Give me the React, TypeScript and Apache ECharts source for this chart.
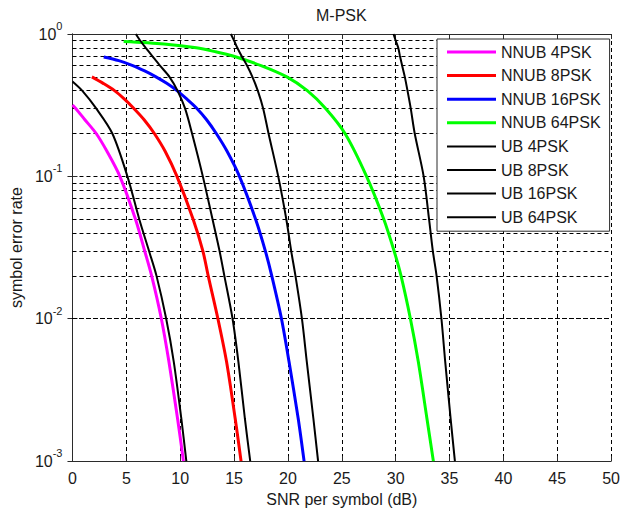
import React, { useEffect, useRef } from 'react';
import * as echarts from 'echarts';

// [SNR (dB), symbol error rate]
const nnub4psk: [number, number][] = [
  [0, 0.317], [0.3, 0.3], [1.15, 0.25], [2.2, 0.2], [3.2, 0.15], [4.4, 0.1], [5.85, 0.05],
  [6.7, 0.03], [7.35, 0.02], [8.25, 0.01], [8.95, 0.005], [9.75, 0.002], [10.3, 0.001],
];
const nnub8psk: [number, number][] = [
  [1.8, 0.5], [2.85, 0.45], [3.9, 0.4], [4.8, 0.35], [5.7, 0.3], [6.65, 0.25], [7.6, 0.2],
  [8.6, 0.15], [9.7, 0.1], [11.2, 0.05], [12.1, 0.03], [12.6, 0.02], [13.5, 0.01],
  [14.3, 0.005], [15.1, 0.002], [15.65, 0.001],
];
const nnub16psk: [number, number][] = [
  [2.9, 0.69], [4.3, 0.65], [5.6, 0.6], [6.7, 0.55], [7.75, 0.5], [8.75, 0.45], [9.7, 0.4],
  [10.6, 0.35], [11.55, 0.3], [12.45, 0.25], [13.35, 0.2], [14.35, 0.15], [15.5, 0.1],
  [17.0, 0.05], [17.9, 0.03], [18.5, 0.02], [19.4, 0.01], [20.1, 0.005], [20.95, 0.002],
  [21.5, 0.001],
];
const nnub64psk: [number, number][] = [
  [4.75, 0.885], [8.5, 0.85], [11.5, 0.8], [13.3, 0.75], [14.9, 0.7], [17.5, 0.6], [19.9, 0.5],
  [21.8, 0.4], [23.5, 0.3], [25.3, 0.2], [27.3, 0.1], [28.9, 0.05], [29.85, 0.03],
  [30.5, 0.02], [31.37, 0.01], [32.1, 0.005], [32.9, 0.002], [33.5, 0.001],
];
const ub4psk: [number, number][] = [
  [0, 0.464], [0.9, 0.4], [2.2, 0.3], [3.7, 0.2], [5.1, 0.1], [6.2, 0.05], [7.1, 0.03],
  [7.8, 0.02], [8.7, 0.01], [9.4, 0.005], [10.1, 0.002], [10.57, 0.001],
];
const ub8psk: [number, number][] = [
  [5.88, 1.0], [6.28, 0.9], [6.8, 0.8], [7.41, 0.7], [8.12, 0.6], [9.0, 0.5], [9.75, 0.4],
  [10.45, 0.3], [11.1, 0.2], [12.1, 0.1], [13.0, 0.05], [13.65, 0.03], [14.1, 0.02],
  [14.86, 0.01], [15.4, 0.005], [16.0, 0.002], [16.5, 0.001],
];
const ub16psk: [number, number][] = [
  [14.7, 1.0], [15.0, 0.9], [15.3, 0.8], [15.7, 0.7], [16.2, 0.6], [16.7, 0.5], [17.2, 0.4],
  [17.7, 0.3], [18.2, 0.2], [19.1, 0.1], [19.85, 0.05], [20.3, 0.03], [20.7, 0.02],
  [21.3, 0.01], [21.75, 0.005], [22.36, 0.002], [22.8, 0.001],
];
const ub64psk: [number, number][] = [
  [29.8, 1.0], [30.0, 0.9], [30.24, 0.8], [30.4, 0.7], [30.6, 0.6], [30.85, 0.5], [31.1, 0.4],
  [31.4, 0.3], [31.77, 0.2], [32.6, 0.1], [33.1, 0.05], [33.45, 0.03], [33.8, 0.02],
  [34.25, 0.01], [34.6, 0.005], [35.1, 0.002], [35.5, 0.001],
];

const seriesNames = [
  'NNUB 4PSK', 'NNUB 8PSK', 'NNUB 16PSK', 'NNUB 64PSK',
  'UB 4PSK', 'UB 8PSK', 'UB 16PSK', 'UB 64PSK',
];
const seriesData = [nnub4psk, nnub8psk, nnub16psk, nnub64psk, ub4psk, ub8psk, ub16psk, ub64psk];
const seriesColors = ['#ff00ff', '#ff0000', '#0000ff', '#00ff00', '#000000', '#000000', '#000000', '#000000'];
const seriesWidths = [3, 3, 3, 3, 2, 2, 2, 2];

// minor log grid lines (2..9 x each decade)
const minorGridValues = [
  0.002, 0.003, 0.004, 0.005, 0.006, 0.007, 0.008, 0.009,
  0.02, 0.03, 0.04, 0.05, 0.06, 0.07, 0.08, 0.09,
  0.2, 0.3, 0.4, 0.5, 0.6, 0.7, 0.8, 0.9,
];

const FONT = '"Liberation Sans", Arial, Helvetica, sans-serif';
const TEXT = '#1a1a1a';
const AXIS = '#2b2b2b';
const DASH = [4, 3];

export default function App() {
  const ref = useRef<HTMLDivElement>(null);

  useEffect(() => {
    document.body.style.margin = '0';
    const chart = echarts.init(ref.current!, undefined, { renderer: 'svg' });

    const series: any[] = seriesNames.map((name, i) => ({
      name,
      type: 'line',
      data: seriesData[i],
      symbol: 'none',
      showSymbol: false,
      smooth: 0.3,
      clip: true,
      lineStyle: { color: seriesColors[i], width: seriesWidths[i] },
      itemStyle: { color: seriesColors[i] },
      z: 3,
    }));

    series[0].markLine = {
      silent: true,
      symbol: 'none',
      label: { show: false },
      lineStyle: { color: '#000', width: 1, type: DASH },
      data: minorGridValues.map((v) => ({ yAxis: v })),
      z: 1,
    };

    const legendData = seriesNames.map((name, i) => ({
      name,
      icon: seriesWidths[i] >= 3 ? 'rect' : 'path://M0,0H49V2H0Z',
    }));

    chart.setOption({
      animation: false,
      backgroundColor: '#fff',
      textStyle: { fontFamily: FONT },
      title: {
        text: 'M-PSK',
        left: 316,
        top: 7,
        padding: 0,
        textStyle: { fontSize: 16, fontWeight: 'normal', color: TEXT, fontFamily: FONT },
      },
      grid: { left: 70, top: 34, right: 9, bottom: 49, containLabel: false },
      legend: {
        orient: 'vertical',
        left: 437,
        top: 39,
        padding: [4, 9, 5, 10],
        itemGap: 5.6,
        itemWidth: 49,
        itemHeight: 3,
        backgroundColor: '#fff',
        borderColor: AXIS,
        borderWidth: 1,
        data: legendData,
        textStyle: { fontSize: 16, color: TEXT, fontFamily: FONT, lineHeight: 18 },
        z: 10,
      },
      xAxis: [
        {
          type: 'value',
          min: 0,
          max: 50,
          interval: 5,
          position: 'bottom',
          name: 'SNR per symbol (dB)',
          nameLocation: 'middle',
          nameGap: 27,
          nameTextStyle: { fontSize: 16, color: TEXT, fontFamily: FONT },
          axisLine: { show: true, lineStyle: { color: AXIS, width: 1 } },
          axisTick: { show: true, inside: true, length: 5, lineStyle: { color: AXIS } },
          axisLabel: { fontSize: 16, color: TEXT, margin: 9, fontFamily: FONT },
          splitLine: { show: true, lineStyle: { color: '#000', width: 1, type: DASH } },
        },
        {
          type: 'value',
          min: 0,
          max: 50,
          interval: 5,
          position: 'top',
          axisLine: { show: true, lineStyle: { color: AXIS, width: 1 } },
          axisTick: { show: true, inside: true, length: 5, lineStyle: { color: AXIS } },
          axisLabel: { show: false },
          splitLine: { show: false },
        },
      ],
      yAxis: [
        {
          type: 'log',
          logBase: 10,
          min: 0.001,
          max: 1,
          splitNumber: 3,
          position: 'left',
          name: 'symbol error rate',
          nameLocation: 'middle',
          nameGap: 42,
          nameTextStyle: { fontSize: 16, color: TEXT, fontFamily: FONT },
          axisLine: { show: true, lineStyle: { color: AXIS, width: 1 } },
          axisTick: { show: true, inside: true, length: 5, lineStyle: { color: AXIS } },
          axisLabel: {
            margin: 10,
            formatter: (v: number) => `{b|10}{s|${Math.round(Math.log10(v))}}`,
            rich: {
              b: { fontSize: 16, color: TEXT, fontFamily: FONT, lineHeight: 27 },
              s: { fontSize: 11, color: TEXT, fontFamily: FONT, lineHeight: 11, verticalAlign: 'top' },
            },
          },
          splitLine: { show: true, lineStyle: { color: '#000', width: 1, type: DASH } },
        },
        {
          type: 'log',
          logBase: 10,
          min: 0.001,
          max: 1,
          splitNumber: 3,
          position: 'right',
          axisLine: { show: true, lineStyle: { color: AXIS, width: 1 } },
          axisTick: { show: true, inside: true, length: 5, lineStyle: { color: AXIS } },
          axisLabel: { show: false },
          splitLine: { show: false },
        },
      ],
      series,
    });

    return () => chart.dispose();
  }, []);

  return <div ref={ref} style={{ width: 623, height: 512 }} />;
}
